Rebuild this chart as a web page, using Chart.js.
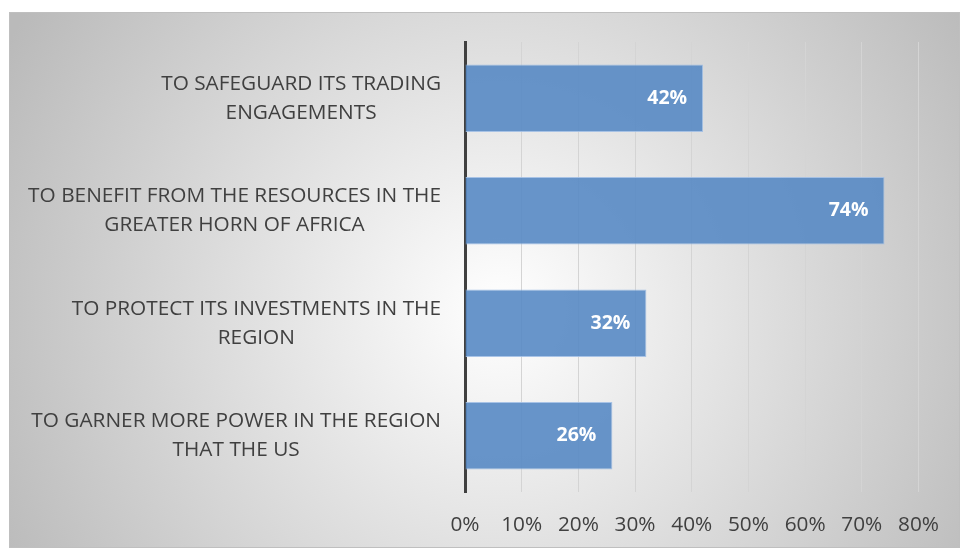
<!DOCTYPE html>
<html><head><meta charset="utf-8">
<script src="https://cdn.jsdelivr.net/npm/chart.js@4"></script>
<style>html,body{margin:0;padding:0;background:#fff;}#wrap{width:960px;height:549px;position:relative}</style>
</head><body><div id="wrap"><canvas id="c" width="960" height="549"></canvas></div>
<script>
const categories = [
  ["TO SAFEGUARD ITS TRADING", "ENGAGEMENTS"],
  ["TO BENEFIT FROM THE RESOURCES IN THE", "GREATER HORN OF AFRICA"],
  ["TO PROTECT ITS INVESTMENTS IN THE", "REGION"],
  ["TO GARNER MORE POWER IN THE REGION", "THAT THE US"]
];
const values = [42, 74, 32, 26];
const xMin = 0, xMax = 80, xStep = 10;

const FONT = "'Open Sans', sans-serif";
const LABEL_SIZE = 20.8;
const VALUE_SIZE = 19.5;

const bgPlugin = {
  id: 'bg',
  beforeDraw(chart) {
    const ctx = chart.ctx;
    const x0 = 9, y0 = 12, x1 = 960, y1 = 548;
    const cx = 500, cy = 310;
    const g = ctx.createRadialGradient(cx, cy, 0, cx, cy, 560);
    g.addColorStop(0, '#ffffff');
    g.addColorStop(1, '#bababa');
    ctx.save();
    ctx.fillStyle = g;
    ctx.fillRect(x0, y0, x1 - x0, y1 - y0);
    ctx.strokeStyle = '#bfbfbf';
    ctx.lineWidth = 1;
    ctx.strokeRect(x0 + 0.5, y0 + 0.5, x1 - x0 - 1, y1 - y0 - 1);
    ctx.restore();
  }
};

const labelPlugin = {
  id: 'labels',
  afterDraw(chart) {
    const ctx = chart.ctx;
    const ys = chart.scales.y;
    ctx.save();
    ctx.font = LABEL_SIZE + 'px ' + FONT;
    ctx.fillStyle = '#404040';
    ctx.textAlign = 'center';
    ctx.textBaseline = 'middle';
    const right = chart.chartArea.left - 24;
    const lh = 29;
    categories.forEach((lines, i) => {
      const y = ys.getPixelForValue(i);
      const maxW = Math.max(...lines.map(l => ctx.measureText(l).width));
      const cx = right - maxW / 2;
      lines.forEach((l, k) => {
        ctx.fillText(l, cx, y + (k - (lines.length - 1) / 2) * lh);
      });
    });
    ctx.font = 'bold ' + VALUE_SIZE + 'px ' + FONT;
    ctx.fillStyle = '#ffffff';
    ctx.textAlign = 'right';
    const meta = chart.getDatasetMeta(0);
    meta.data.forEach((bar, i) => {
      ctx.fillText(values[i] + '%', bar.x - 16, bar.y);
    });
    ctx.restore();
  }
};

new Chart(document.getElementById('c'), {
  type: 'bar',
  data: {
    labels: categories,
    datasets: [{
      data: values,
      backgroundColor: 'rgba(88,137,196,0.9)',
      borderColor: 'rgba(160,190,228,0.9)',
      borderWidth: 1,
      barPercentage: 0.6,
      categoryPercentage: 1.0
    }]
  },
  options: {
    indexAxis: 'y',
    responsive: false,
    animation: false,
    devicePixelRatio: 1,
    layout: { padding: { left: 0, right: 40, top: 42, bottom: 0 } },
    plugins: { legend: { display: false }, tooltip: { enabled: false } },
    scales: {
      x: {
        min: xMin, max: xMax,
        ticks: {
          stepSize: xStep,
          callback: v => v + '%',
          font: { family: FONT, size: LABEL_SIZE },
          color: '#404040',
          padding: 21,
          maxRotation: 0
        },
        grid: { color: '#d4d4d4', lineWidth: 1, drawTicks: false },
        border: { display: false },
        afterFit(s) { s.height = 57; }
      },
      y: {
        ticks: { display: false },
        grid: { display: false },
        border: { display: true, color: '#404040', width: 3 },
        afterFit(s) { s.width = 465; }
      }
    }
  },
  plugins: [bgPlugin, labelPlugin]
});
</script>
</body></html>
